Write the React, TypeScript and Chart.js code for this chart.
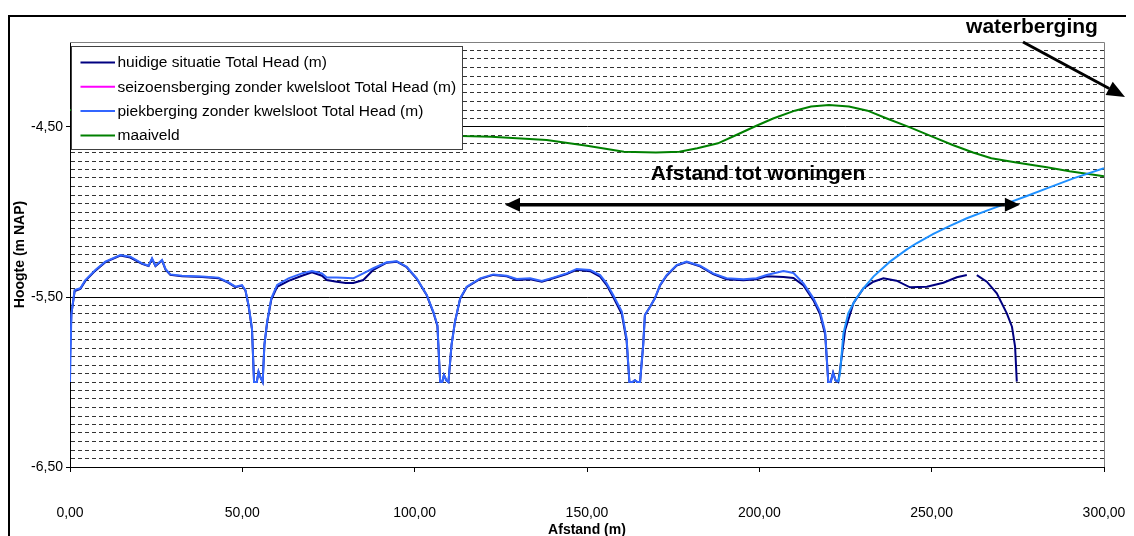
import React, { useEffect, useRef } from 'react';
import { Chart, registerables } from 'chart.js';

Chart.register(...registerables);

const FONT = '"Liberation Sans", Arial, Helvetica, sans-serif';

// ---------- data ----------
const huidigeX = [
  0, 0.4, 1.35, 3.0, 4.45, 7.35, 10.25, 14.6, 17.5, 20.9,
  22.8, 23.8, 24.8, 26.7, 27.7, 29.1, 32.5, 38.3, 43.1, 46.0,
  48.0, 49.9, 50.9, 51.8, 52.8, 53.4, 54.2, 54.7, 55.2, 55.9,
  56.4, 57.2, 58.4, 60.1, 63.4, 67.3, 70.2, 73.1, 74.5, 77.4,
  80.0, 82.2, 85.1, 88.0, 91.9, 94.8, 97.7, 100.6, 103.5, 105.4,
  106.6, 107.4, 108.0, 108.5, 109.2, 109.8, 110.7, 111.7, 113.2, 115.1,
  119, 122.8, 126.7, 129.6, 133.5, 136.9, 140.2, 144.1, 147, 150.9,
  153.8, 155.7, 157.6, 160.1, 161.5, 162.3, 163.2, 163.9, 164.6, 165.4,
  166.3, 166.8, 168.3, 169.7, 171.2, 173.1, 176, 178.9, 182.8, 186.6,
  190.5, 195.4, 199.2, 202.1, 207, 209.9, 212.8, 215.7, 217.6, 219.1,
  220, 220.7, 221.4, 222.1, 222.9, 223.4, 224.9, 227.3, 230.2, 233.1,
  236, 239.8, 243.7, 248.6, 253.4, 257.3, 260.2, 261.6, 263.1, 266,
  268.9, 271.8, 273.3, 274.2, 274.7,
];
const huidigeY = [
  -5.85, -5.6, -5.465, -5.452, -5.405, -5.345, -5.295, -5.256, -5.268, -5.305,
  -5.318, -5.276, -5.318, -5.285, -5.338, -5.37, -5.378, -5.383, -5.389, -5.417,
  -5.442, -5.433, -5.462, -5.55, -5.69, -6.0, -6.0, -5.94, -5.97, -6.0,
  -5.782, -5.65, -5.515, -5.44, -5.405, -5.375, -5.355, -5.375, -5.4, -5.41,
  -5.418, -5.418, -5.4, -5.34, -5.298, -5.292, -5.325, -5.393, -5.49, -5.59,
  -5.67, -6.0, -6.0, -5.959, -5.99, -6.0, -5.782, -5.645, -5.51, -5.442,
  -5.393, -5.37, -5.378, -5.4, -5.395, -5.41, -5.39, -5.365, -5.34, -5.348,
  -5.38, -5.43, -5.5, -5.6, -5.76, -6.0, -6.0, -5.99, -6.0, -6.0,
  -5.782, -5.606, -5.557, -5.508, -5.432, -5.375, -5.315, -5.295, -5.32, -5.365,
  -5.395, -5.402, -5.395, -5.378, -5.382, -5.388, -5.432, -5.52, -5.6, -5.72,
  -6.0, -6.0, -5.945, -5.99, -6.0, -5.93, -5.694, -5.537, -5.449, -5.41,
  -5.39, -5.404, -5.443, -5.439, -5.416, -5.384, -5.371, null, -5.371, -5.41,
  -5.478, -5.596, -5.675, -5.792, -5.998,
];

const seizoensbergingX: number[] = [];
const seizoensbergingY: number[] = [];

const piekbergingX = [
  0, 0.4, 1.35, 3.0, 4.45, 7.35, 10.25, 14.6, 17.5, 20.9,
  22.8, 23.8, 24.8, 26.7, 27.7, 29.1, 32.5, 38.3, 43.1, 46.0,
  48.0, 49.9, 50.9, 51.8, 52.8, 53.4, 54.2, 54.7, 55.2, 55.9,
  56.4, 57.2, 58.4, 60.1, 63.4, 67.3, 70.2, 73.1, 74.5, 77.4,
  82.2, 85.1, 88.0, 91.9, 94.8, 97.7, 100.6, 103.5, 105.4, 106.6,
  107.4, 108.0, 108.5, 109.2, 109.8, 110.7, 111.7, 113.2, 115.1, 119,
  122.8, 126.7, 129.6, 133.5, 136.9, 140.2, 144.1, 147, 150.9, 153.8,
  155.7, 157.6, 160.1, 161.5, 162.3, 163.2, 163.9, 164.6, 165.4, 166.3,
  166.8, 168.3, 169.7, 171.2, 173.1, 176, 178.9, 182.8, 186.6, 190.5,
  195.4, 199.2, 202.1, 207, 209.9, 212.8, 215.7, 217.6, 219.1, 220,
  220.7, 221.4, 222.1, 222.9, 223.4, 224.4, 225.8, 227.8, 230.2, 233.1,
  237.9, 242.8, 245.6, 250.5, 255.3, 260.2, 266, 271.8, 277.6, 283.4,
  291.1, 300,
];
const piekbergingY = [
  -6.0, -5.6, -5.459, -5.449, -5.4, -5.341, -5.292, -5.253, -5.263, -5.302,
  -5.316, -5.273, -5.316, -5.282, -5.335, -5.367, -5.375, -5.38, -5.386, -5.414,
  -5.439, -5.43, -5.459, -5.547, -5.684, -6.0, -6.0, -5.94, -5.97, -6.0,
  -5.782, -5.645, -5.508, -5.429, -5.39, -5.361, -5.347, -5.361, -5.385, -5.385,
  -5.39, -5.361, -5.331, -5.296, -5.29, -5.322, -5.39, -5.488, -5.586, -5.665,
  -6.0, -6.0, -5.959, -5.99, -6.0, -5.782, -5.645, -5.508, -5.439, -5.39,
  -5.367, -5.375, -5.394, -5.39, -5.406, -5.386, -5.361, -5.335, -5.341, -5.371,
  -5.42, -5.488, -5.586, -5.743, -6.0, -6.0, -5.99, -6.0, -6.0, -5.782,
  -5.606, -5.557, -5.508, -5.429, -5.371, -5.312, -5.292, -5.316, -5.361, -5.39,
  -5.396, -5.39, -5.371, -5.347, -5.359, -5.42, -5.508, -5.586, -5.704, -6.0,
  -6.0, -5.945, -5.99, -6.0, -5.949, -5.714, -5.596, -5.518, -5.449, -5.38,
  -5.292, -5.22, -5.184, -5.129, -5.082, -5.037, -4.992, -4.949, -4.906, -4.861,
  -4.802, -4.743,
];

const maaiveldX = [
  0, 20, 40, 60, 80, 100, 113.7, 122.2, 138.3, 150,
  160.7, 170, 176.8, 182, 188, 193, 199, 204, 210.3, 215,
  220.2, 226, 231.4, 237, 243.7, 250, 256.1, 262, 267.3, 275,
  283.4, 290, 300,
];
const maaiveldY = [
  -4.4, -4.43, -4.47, -4.5, -4.52, -4.54, -4.553, -4.557, -4.576, -4.61,
  -4.645, -4.65, -4.645, -4.625, -4.596, -4.55, -4.494, -4.45, -4.404, -4.38,
  -4.371, -4.38, -4.404, -4.45, -4.502, -4.555, -4.606, -4.65, -4.684, -4.71,
  -4.737, -4.76, -4.79,
];

const seriesLabels = [
  'huidige situatie Total Head (m)',
  'seizoensberging zonder kwelsloot Total Head (m)',
  'piekberging zonder kwelsloot Total Head (m)',
  'maaiveld',
];
const seriesColors = ['#000080', '#ff00ff', '#3366ff', '#008000'];
const piekTailColor = '#1e90ff';
const piekTailStart = 222.9;

const yMin = -6.5;
const yMax = -4.0;
const yMinorStep = 0.05;
const yMajorStep = 1.0;
const xMin = 0;
const xMax = 300;
const xStep = 50;

const xTitle = 'Afstand (m)';
const yTitle = 'Hoogte (m NAP)';
const noteTop = 'waterberging';
const noteMid = 'Afstand tot woningen';
const spanArrowX = [126.2, 275.6];
const spanArrowY = -4.958;

// ---------- helpers ----------
const fmt = (v: number) => v.toFixed(2).replace('.', ',');
const isMajorY = (v: number) =>
  Math.round((v - yMin) * 100) % Math.round(yMajorStep * 100) === 0;
const isTopY = (v: number) => Math.abs(v - yMax) < 1e-6;
const toPoints = (xs: number[], ys: (number | null)[]) =>
  xs.map((x, i) => ({ x, y: ys[i] }));

function drawHead(ctx: CanvasRenderingContext2D, fx: number, fy: number, tx: number, ty: number, len: number, halfW: number) {
  const a = Math.atan2(ty - fy, tx - fx);
  const bx = tx - len * Math.cos(a);
  const by = ty - len * Math.sin(a);
  ctx.beginPath();
  ctx.moveTo(tx, ty);
  ctx.lineTo(bx + halfW * Math.sin(a), by - halfW * Math.cos(a));
  ctx.lineTo(bx - halfW * Math.sin(a), by + halfW * Math.cos(a));
  ctx.closePath();
  ctx.fill();
  return [bx, by];
}

const decorPlugin = {
  id: 'decor',
  beforeDatasetsDraw(chart: any) {
    const { ctx, chartArea: a } = chart;
    ctx.save();
    ctx.strokeStyle = '#808080';
    ctx.lineWidth = 1;
    ctx.beginPath();
    ctx.moveTo(a.left, Math.round(a.top) + 0.5);
    ctx.lineTo(Math.round(a.right) + 0.5, Math.round(a.top) + 0.5);
    ctx.lineTo(Math.round(a.right) + 0.5, a.bottom);
    ctx.stroke();
    ctx.restore();
  },
  afterDraw(chart: any) {
    const ctx: CanvasRenderingContext2D = chart.ctx;
    const W = chart.width;
    const H = chart.height;
    ctx.save();

    // outer chart frame
    ctx.fillStyle = '#000';
    ctx.fillRect(0, 7, W, 2);
    ctx.fillRect(0, 7, 2, H);

    // legend box
    const lx = 63.5, ly = 38.5, lw = 391, lh = 103;
    ctx.fillStyle = '#fff';
    ctx.fillRect(lx, ly, lw, lh);
    ctx.strokeStyle = '#404040';
    ctx.lineWidth = 1;
    ctx.strokeRect(lx, ly, lw, lh);
    ctx.font = `15.5px ${FONT}`;
    ctx.textBaseline = 'middle';
    ctx.textAlign = 'left';
    seriesLabels.forEach((lab, i) => {
      const yy = 54.5 + i * 24.3;
      ctx.strokeStyle = seriesColors[i];
      ctx.lineWidth = 2;
      ctx.beginPath();
      ctx.moveTo(72.5, yy);
      ctx.lineTo(107, yy);
      ctx.stroke();
      ctx.fillStyle = '#000';
      ctx.fillText(lab, 109.5, yy + 0.5);
    });

    // "waterberging" note + arrow
    ctx.fillStyle = '#000';
    ctx.strokeStyle = '#000';
    ctx.font = `bold 21px ${FONT}`;
    ctx.textAlign = 'center';
    ctx.textBaseline = 'alphabetic';
    ctx.fillText(noteTop, 1024, 25);
    {
      const fx = 1015, fy = 34, tx = 1117, ty = 89;
      const [bx, by] = drawHead(ctx, fx, fy, tx, ty, 18, 7.5);
      ctx.lineWidth = 3;
      ctx.beginPath();
      ctx.moveTo(fx, fy);
      ctx.lineTo(bx, by);
      ctx.stroke();
    }

    // "Afstand tot woningen" note + double arrow
    const xs = chart.scales.x;
    const ys = chart.scales.y;
    const ax1 = xs.getPixelForValue(spanArrowX[0]);
    const ax2 = xs.getPixelForValue(spanArrowX[1]);
    const ay = ys.getPixelForValue(spanArrowY);
    ctx.font = `bold 21px ${FONT}`;
    ctx.fillText(noteMid, 750, 172);
    const [b1x] = drawHead(ctx, ax2, ay, ax1, ay, 15, 7);
    const [b2x] = drawHead(ctx, ax1, ay, ax2, ay, 15, 7);
    ctx.lineWidth = 3.5;
    ctx.beginPath();
    ctx.moveTo(b1x, ay);
    ctx.lineTo(b2x, ay);
    ctx.stroke();

    ctx.restore();
  },
};

export default function App() {
  const ref = useRef<HTMLCanvasElement | null>(null);

  useEffect(() => {
    if (!ref.current) return;
    const common = { showLine: true, borderWidth: 2, pointRadius: 0, pointHoverRadius: 0, tension: 0, spanGaps: false };
    const chart = new Chart(ref.current, {
      type: 'scatter',
      data: {
        datasets: [
          { ...common, label: seriesLabels[0], data: toPoints(huidigeX, huidigeY), borderColor: seriesColors[0], backgroundColor: seriesColors[0], order: 2 },
          { ...common, label: seriesLabels[1], data: toPoints(seizoensbergingX, seizoensbergingY), borderColor: seriesColors[1], backgroundColor: seriesColors[1], order: 1 },
          {
            ...common, label: seriesLabels[2], data: toPoints(piekbergingX, piekbergingY), borderColor: seriesColors[2], backgroundColor: seriesColors[2], order: 0,
            segment: { borderColor: (c: any) => (c.p0.parsed.x >= piekTailStart ? piekTailColor : undefined) },
          },
          { ...common, label: seriesLabels[3], data: toPoints(maaiveldX, maaiveldY), borderColor: seriesColors[3], backgroundColor: seriesColors[3], order: 3 },
        ],
      } as any,
      options: {
        animation: false,
        responsive: false,
        maintainAspectRatio: false,
        events: [],
        layout: { padding: { top: 34, right: 30, left: 0, bottom: 0 } },
        plugins: { legend: { display: false }, tooltip: { enabled: false }, title: { display: false } },
        scales: {
          x: {
            type: 'linear',
            position: 'bottom',
            min: xMin,
            max: xMax,
            afterFit: (s: any) => { s.height = 69; s.paddingLeft = 0; s.paddingRight = 0; },
            ticks: {
              stepSize: xStep, padding: 33, color: '#000', maxRotation: 0, autoSkip: false,
              font: { family: FONT, size: 14 },
              callback: (v: any) => fmt(Number(v)),
            },
            grid: { drawOnChartArea: false, drawTicks: true, tickLength: 5, tickColor: '#000', color: '#000' },
            border: { color: '#000', width: 1 },
            title: { display: true, text: xTitle, color: '#000', font: { family: FONT, size: 14, weight: 'bold' }, padding: { top: 0, bottom: -3 } },
          },
          y: {
            type: 'linear',
            min: yMin,
            max: yMax,
            afterFit: (s: any) => { s.width = 62; s.paddingTop = 0; s.paddingBottom = 0; },
            ticks: {
              stepSize: yMinorStep, maxTicksLimit: 1000, autoSkip: false, padding: 3, color: '#000',
              font: { family: FONT, size: 14 },
              callback: (v: any) => (isMajorY(Number(v)) ? fmt(Number(v)) : ''),
            },
            grid: {
              lineWidth: 1,
              tickLength: 4,
              color: (c: any) => {
                const v = c.tick ? c.tick.value : null;
                if (v == null) return '#000';
                if (isTopY(v)) return '#808080';
                return isMajorY(v) ? '#000' : '#333';
              },
              tickColor: (c: any) => (c.tick && isMajorY(c.tick.value) ? '#000' : 'rgba(0,0,0,0)'),
            },
            border: {
              color: '#000',
              width: 1,
              dash: (c: any) => (c.tick && !isMajorY(c.tick.value) && !isTopY(c.tick.value) ? [4, 3] : []),
            },
            title: { display: true, text: yTitle, color: '#000', font: { family: FONT, size: 14, weight: 'bold' }, padding: { top: 4, bottom: 0 } },
          },
        },
      } as any,
      plugins: [decorPlugin],
    });
    return () => chart.destroy();
  }, []);

  return (
    <div style={{ width: 1126, height: 528 }}>
      <style>{'html,body{overflow:hidden;}'}</style>
      <canvas ref={ref} width={1126} height={528} style={{ display: 'block' }} />
    </div>
  );
}
